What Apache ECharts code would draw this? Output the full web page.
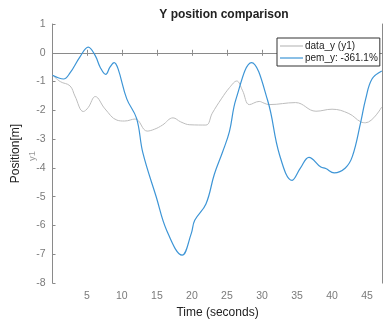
<!DOCTYPE html>
<html><head><meta charset="utf-8">
<script src="https://cdn.jsdelivr.net/npm/echarts@6/dist/echarts.min.js"></script>
<style>html,body{margin:0;padding:0;background:#fff}#c{width:383px;height:324px}</style>
</head><body><div id="c"></div>
<script>
const dataYTime = [0.14,1.2,2.6,3.3,4.5,5.2,6.2,7.6,9.3,10.4,11.9,13.6,14.7,15.8,17.3,18.4,19.7,22.0,22.9,24.2,25.4,26.4,27.2,28.2,29.6,30.3,31.0,34.8,37.7,40.0,42.4,44.1,44.8,47.1];
const dataYVal  = [-0.78,-1.0,-1.15,-1.5,-2.04,-1.9,-1.52,-1.95,-2.34,-2.37,-2.3,-2.72,-2.65,-2.51,-2.26,-2.4,-2.5,-2.51,-2.1,-1.6,-1.2,-0.98,-1.3,-1.8,-1.69,-1.75,-1.8,-1.73,-2.03,-1.96,-2.11,-2.4,-2.43,-1.88];
const pemTime = [0.11,1.68,2.6,4.0,5.2,6.2,6.9,7.7,8.3,8.9,9.45,10.7,12.1,13.0,14.9,16.4,18.6,19.9,20.4,22.0,23.2,24.4,25.35,26.3,28.5,30.8,32.5,34.3,35.5,36.7,38.4,39.1,40.3,41.9,42.9,44.1,44.8,45.7,47.1];
const pemVal  = [-0.78,-0.91,-0.7,-0.15,0.2,-0.1,-0.5,-0.75,-0.5,-0.34,-0.55,-1.6,-2.28,-3.48,-5.0,-6.17,-7.03,-6.28,-5.82,-5.25,-4.22,-3.43,-2.74,-1.6,-0.34,-1.65,-3.54,-4.43,-4.0,-3.63,-3.97,-4.02,-4.17,-4.0,-3.6,-2.4,-1.6,-0.91,-0.63];
const seriesNames = ['data_y (y1)', 'pem_y: -361.1%'];
const xTicks = [5,10,15,20,25,30,35,40,45];

const chart = echarts.init(document.getElementById('c'), null, {renderer:'canvas'});
const axisCol = '#8a8a8a';
const labelCol = '#7a7a7a';
const ff = 'Liberation Sans, Arial, sans-serif';
chart.setOption({
  animation:false,
  title:{text:'Y position comparison', left:219, top:4, textAlign:'center',
    textStyle:{fontFamily:ff, fontSize:12, fontWeight:'bold', color:'#222'}},
  grid:{left:52.5, right:0.5, top:24, bottom:37.5},
  legend:{orient:'vertical', left:277, top:38, icon:'rect', itemWidth:23, itemHeight:1.2, itemGap:2,
    padding:[3,2,3,3], borderColor:'#333', borderWidth:1, backgroundColor:'#fff',
    textStyle:{fontFamily:ff, fontSize:10, color:'#222', padding:[0,0,0,-3]},
    data:seriesNames},
  xAxis:[{type:'value', min:0.1, max:47.2, position:'bottom',
    name:'Time (seconds)', nameLocation:'middle', nameGap:21,
    nameTextStyle:{fontFamily:ff, fontSize:12, color:'#222'},
    axisLine:{show:true, lineStyle:{color:axisCol}},
    axisTick:{show:true, inside:true, length:3, lineStyle:{color:axisCol},
      customValues:xTicks},
    axisLabel:{fontFamily:ff, fontSize:10.5, color:labelCol, margin:8, customValues:xTicks},
    splitLine:{show:false}},
   {type:'value', min:0.1, max:47.2, position:'top',
    axisLine:{show:true, lineStyle:{color:axisCol}},
    axisTick:{show:true, inside:true, length:3, lineStyle:{color:axisCol}, customValues:xTicks},
    axisLabel:{show:false}, splitLine:{show:false}}],
  yAxis:[{type:'value', min:-8, max:1, interval:1,
    name:'Position[m]', nameLocation:'middle', nameGap:31,
    nameTextStyle:{fontFamily:ff, fontSize:12, color:'#222'},
    axisLine:{show:true, lineStyle:{color:axisCol}},
    axisTick:{show:true, inside:true, length:3, lineStyle:{color:axisCol}},
    axisLabel:{fontFamily:ff, fontSize:10.5, color:labelCol, margin:7},
    splitLine:{show:false}},
   {type:'value', min:-8, max:1, interval:1, position:'right',
    axisLine:{show:true, lineStyle:{color:axisCol}},
    axisTick:{show:false}, axisLabel:{show:false}, splitLine:{show:false}}],
  graphic:[{type:'text', left:27, top:151, rotation:Math.PI/2,
    style:{text:'y1', fontFamily:ff, fontSize:9.5, fill:'#999'}}],
  series:[
    {name:seriesNames[0], type:'line', smooth:0.4, symbol:'none',
     data:dataYTime.map((t,i)=>[t,dataYVal[i]]),
     lineStyle:{color:'#bdbdbd', width:1}, itemStyle:{color:'#bdbdbd'}},
    {name:seriesNames[1], type:'line', smooth:0.4, symbol:'none',
     data:pemTime.map((t,i)=>[t,pemVal[i]]),
     lineStyle:{color:'#3d95d6', width:1.2}, itemStyle:{color:'#3d95d6'}}
  ]
});
</script></body></html>
